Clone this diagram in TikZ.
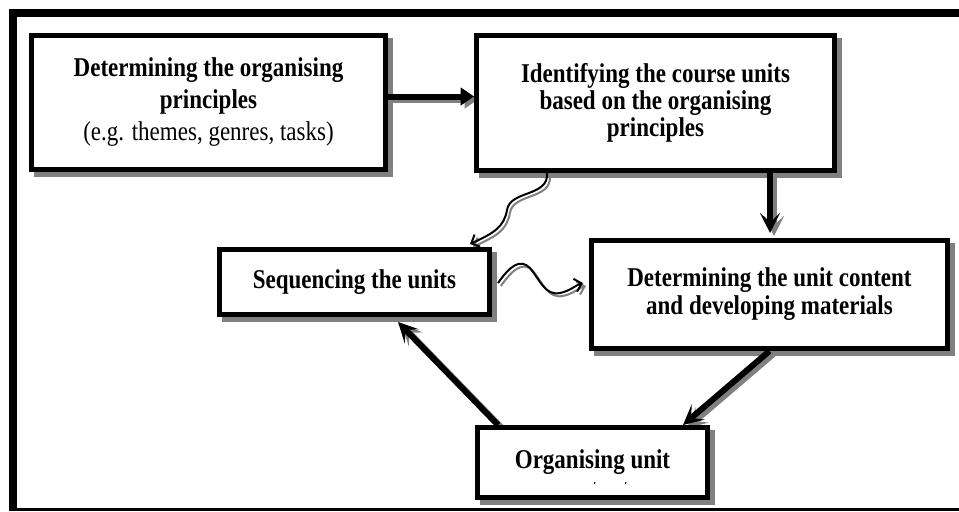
\documentclass[tikz,border=0pt]{standalone}
\usepackage{fontspec}
\usepackage{graphicx}
\setmainfont{Liberation Serif}
\usetikzlibrary{arrows.meta,calc,backgrounds}
\definecolor{shadowgray}{HTML}{808080}
\newcommand{\tl}[1]{\scalebox{1}[1.18]{#1}}
\begin{document}
\begin{tikzpicture}[x=0.75pt,y=-0.75pt,
  box/.style={draw=black, line width=3.75pt, fill=white, rectangle, inner sep=0pt, align=center},
  boxfont/.style={font=\bfseries\fontsize{17.25pt}{#1}\selectfont},
  bigarrow/.style={line width=4.5pt, line cap=butt, -{Stealth[length=15pt,width=15pt,inset=7pt]}},
  filledarrow/.style={line width=4.5pt, line cap=butt, -{Triangle[length=10pt,width=13pt]}},
  wavearrow/.style={line width=1.5pt, -{Straight Barb[length=5pt,width=10pt]}},
  shadowshift/.style={shadowgray, transform canvas={xshift=3pt,yshift=-2.25pt}},
  waveshadow/.style={shadowgray, transform canvas={xshift=2.2pt,yshift=-2.2pt}}
]
\useasboundingbox (0,0) rectangle (959,511);
% outer frame
\draw[line width=6pt, line join=miter] (13,511) -- (13,13) -- (959,13);
\draw[line width=2pt] (9,509.5) -- (959,509.5);

% boxes
\node[box, boxfont=24pt, minimum width=265.5pt, minimum height=100.5pt] (A) at (208.5,102.5)
  {\tl{Determining the organising}\\ \tl{principles}\\ \tl{\mdseries (e.g. themes, genres, tasks)}};
\node[box, boxfont=20.25pt, minimum width=268.5pt, minimum height=101.25pt] (B) at (655.5,103)
  {\tl{Identifying the course units}\\ \tl{based on the organising}\\ \tl{principles}};
\node[box, boxfont=21pt, minimum width=202.5pt, minimum height=48.75pt] (C) at (354.5,282)
  {\tl{Sequencing the units}};
\node[box, boxfont=21pt, minimum width=267pt, minimum height=81pt] (D) at (769.5,294.5)
  {\tl{Determining the unit content}\\ \tl{and developing materials}};
\node[box, boxfont=21pt, minimum width=172.5pt, minimum height=52.5pt] (E) at (592.5,462.5)
  {\tl{Organising unit}};

% named connector end points
\coordinate (abS) at ($(A.east)+(0,-6)$);
\coordinate (abE) at ($(B.west)+(0,-6.5)$);
\coordinate (bdS) at ($(B.south west)+(296,0)$);
\coordinate (bdE) at ($(D.north west)+(181,-5)$);
\coordinate (deE) at ($(E.north east)+(-27,0)$);
\coordinate (ecS) at ($(E.north west)+(23,0)$);
\coordinate (ecE) at ($(C.south west)+(181,5)$);
\coordinate (bcS) at ($(B.south west)+(73,0)$);
\coordinate (bcE) at ($(C.north east)+(-22,-3)$);
\coordinate (cdS) at ($(C.east)+(6,1)$);
\coordinate (cdE) at ($(D.west)+(-6,-11.5)$);

% shadows
\begin{scope}[on background layer]
  \foreach \n in {A,B,C,D,E}
    \fill[shadowgray] ($(\n.north west)+(5,5)$) rectangle ($(\n.south east)+(5,5)$);
  \draw[filledarrow, shadowshift] (abS) -- (abE);
  \draw[bigarrow, shadowshift] (bdS) -- (bdE);
  \draw[bigarrow, shadowshift] (D.south) -- (deE);
  \draw[bigarrow, shadowshift] (ecS) -- (ecE);
  \draw[wavearrow, waveshadow] (bcS) .. controls (549,197) and (510,190) .. (507,210)
      .. controls (504,227) and (494,233) .. (bcE);
  \draw[wavearrow, waveshadow] (cdS) .. controls (510,266) and (520,258) .. (530,268)
      .. controls (540,280) and (545,296) .. (560,293)
      .. controls (570,291) and (576,285) .. (cdE);
\end{scope}

% connectors
\draw[filledarrow] (abS) -- (abE);
\draw[bigarrow] (bdS) -- (bdE);
\draw[bigarrow] (D.south) -- (deE);
\draw[bigarrow] (ecS) -- (ecE);
\draw[wavearrow] (bcS) .. controls (549,197) and (510,190) .. (507,210)
    .. controls (504,227) and (494,233) .. (bcE);
\draw[wavearrow] (cdS) .. controls (510,266) and (520,258) .. (530,268)
    .. controls (540,280) and (545,296) .. (560,293)
    .. controls (570,291) and (576,285) .. (cdE);

% small marks inside the last box
\draw[line width=0.8pt] ($(E.south west)+(120,-18)$) -- ++(-0.6,1.8);
\draw[line width=0.8pt] ($(E.south west)+(151,-18)$) -- ++(-0.6,1.8);
\end{tikzpicture}
\end{document}
